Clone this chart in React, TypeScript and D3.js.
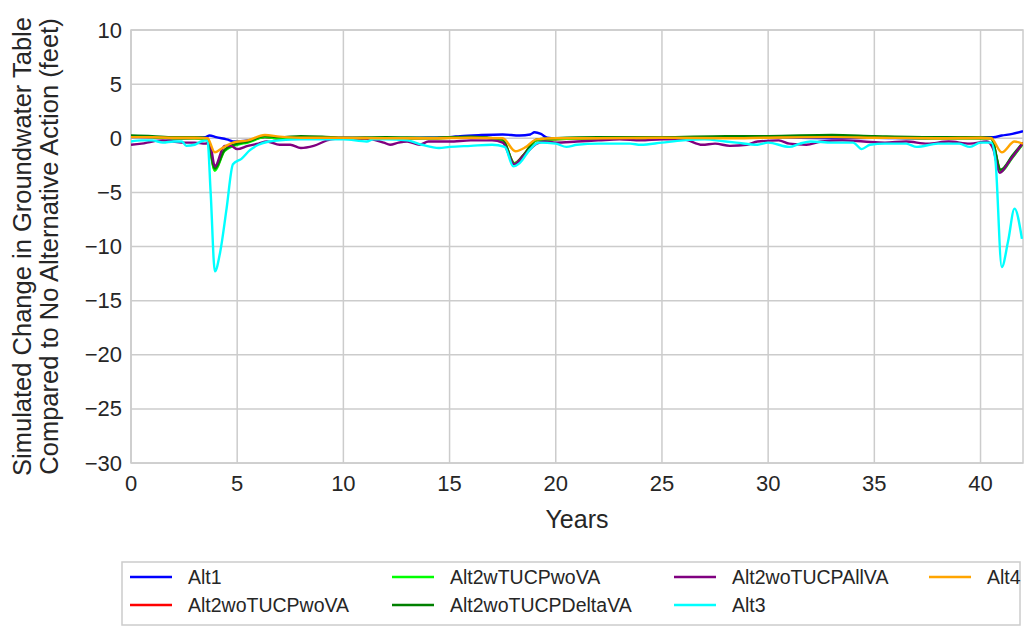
import React from "react";
import * as d3 from "d3";

const xTicks = [0, 5, 10, 15, 20, 25, 30, 35, 40];
const yTicks = [10, 5, 0, -5, -10, -15, -20, -25, -30];

const alt1X = [0, 1, 2, 3, 3.5, 3.7, 4.0, 4.5, 4.9, 5.5, 6.3, 7, 8, 10, 12, 14, 15, 15.5, 16.5, 17.5, 18.3, 18.8, 19.0, 19.3, 19.6, 20, 22, 25, 28, 29, 30, 33, 35, 37, 39, 40, 40.6, 41, 41.5, 42];
const alt1Y = [0.1, 0.1, 0.0, 0.05, 0.1, 0.25, 0.1, -0.1, -0.3, -0.2, 0.1, 0.0, 0.0, 0.05, 0.0, 0.05, 0.1, 0.2, 0.3, 0.35, 0.25, 0.35, 0.55, 0.4, 0.05, 0.0, 0.0, 0.05, 0.05, 0.2, 0.1, 0.0, 0.05, 0.0, 0.1, 0.1, 0.1, 0.25, 0.4, 0.65];

const alt2X = [0, 1, 2, 3, 3.6, 3.95, 4.4, 5.0, 5.5, 6.3, 7, 8, 9, 10, 12, 14, 16, 17.5, 18.05, 18.5, 19.1, 20, 22, 25, 28, 30, 33, 35, 38, 40, 40.5, 40.95, 41.5, 42];
const redY = [0.15, 0.1, 0.0, 0.0, -0.1, -2.9, -1.1, -0.5, -0.3, 0.1, 0.0, 0.1, 0.1, 0.0, 0.0, 0.0, 0.1, -0.2, -2.3, -1.5, -0.2, -0.1, 0.0, 0.0, 0.1, 0.1, 0.15, 0.1, 0.0, 0.0, 0.0, -3.0, -1.7, -0.5];
const limeY = [0.2, 0.1, 0.0, 0.0, -0.1, -3.0, -1.2, -0.6, -0.4, 0.1, 0.0, 0.1, 0.1, 0.0, 0.0, 0.0, 0.1, -0.2, -2.3, -1.6, -0.2, -0.1, 0.0, 0.0, 0.1, 0.1, 0.2, 0.1, 0.0, 0.0, 0.0, -3.1, -1.8, -0.5];
const dgreenY = [0.25, 0.2, 0.1, 0.1, 0.0, -2.8, -1.1, -0.5, -0.3, 0.2, 0.1, 0.2, 0.15, 0.05, 0.1, 0.05, 0.15, -0.1, -2.4, -1.5, -0.1, 0.0, 0.1, 0.1, 0.2, 0.2, 0.3, 0.2, 0.1, 0.1, 0.05, -2.9, -1.6, -0.4];

const purpleX = [0, 0.5, 1.0, 1.5, 2.0, 2.5, 3.0, 3.5, 3.7, 3.95, 4.4, 4.7, 5.0, 5.5, 6.0, 6.4, 7.0, 7.5, 8.0, 8.6, 9.4, 10, 11, 11.9, 12.2, 12.6, 13.0, 13.6, 14.0, 15, 16, 17, 17.5, 18.05, 18.5, 19.1, 19.5, 20, 21, 22, 23, 24, 25, 26, 26.9, 27.5, 28.2, 29, 29.5, 30.5, 31.0, 31.8, 32.5, 33.5, 34.5, 35.5, 36.5, 37.5, 38.5, 39.5, 40.3, 40.6, 40.9, 41.4, 42];
const purpleY = [-0.6, -0.5, -0.3, -0.2, -0.3, -0.4, -0.4, -0.5, -0.4, -2.6, -0.7, -0.7, -1.0, -0.7, -0.5, -0.3, -0.6, -0.6, -0.9, -0.7, -0.1, 0.0, 0.0, -0.4, -0.6, -0.4, -0.3, -0.6, -0.3, -0.3, -0.2, -0.2, -0.4, -2.4, -1.6, -0.5, -0.3, -0.4, -0.3, -0.2, -0.1, -0.2, -0.1, -0.1, -0.6, -0.5, -0.7, -0.6, -0.3, -0.2, -0.5, -0.6, -0.3, -0.2, -0.3, -0.4, -0.3, -0.5, -0.3, -0.5, -0.3, -1.0, -3.2, -2.0, -0.4];

const cyanX = [0, 0.5, 1.0, 1.5, 2.0, 2.4, 2.6, 3.0, 3.3, 3.6, 3.75, 3.95, 4.2, 4.5, 4.8, 5.2, 5.6, 6.0, 6.5, 7, 8, 9, 10, 11.1, 11.4, 12, 13, 13.7, 14.5, 15, 16, 17, 17.6, 18.0, 18.3, 18.8, 19.2, 20, 20.5, 21, 22, 23.5, 24, 25, 26, 27, 28, 28.5, 29.5, 30, 31, 31.5, 32, 33, 34, 34.4, 34.8, 35.5, 36.5, 37, 38, 39, 39.5, 40, 40.5, 40.7, 41.0, 41.3, 41.6, 41.95];
const cyanY = [-0.3, -0.2, -0.2, -0.4, -0.3, -0.3, -0.7, -0.6, -0.3, -0.2, -5.0, -12.3, -10.5, -6.5, -2.4, -1.9, -1.1, -0.6, -0.3, -0.2, -0.1, -0.1, -0.1, -0.3, -0.1, -0.1, -0.2, -0.6, -0.9, -0.8, -0.7, -0.6, -0.8, -2.6, -2.3, -1.0, -0.4, -0.5, -0.8, -0.6, -0.5, -0.5, -0.6, -0.4, -0.2, -0.1, -0.3, -0.4, -0.6, -0.4, -0.8, -0.5, -0.3, -0.4, -0.4, -1.0, -0.6, -0.5, -0.5, -0.8, -0.5, -0.5, -0.8, -0.4, -0.4, -2.0, -11.9, -9.5, -6.5, -9.3];

const orangeX = [0, 1, 2, 3, 3.6, 3.95, 4.3, 4.8, 5.5, 6.3, 7, 8, 10, 12, 14, 16, 17.5, 18.1, 18.6, 19.1, 20, 22, 25, 28, 30, 33, 35, 38, 40, 40.5, 41.0, 41.6, 42];
const orangeY = [0.1, 0.1, 0.05, 0.05, 0.0, -1.3, -0.9, -0.4, -0.2, 0.3, 0.15, 0.05, 0.05, 0.0, 0.0, 0.05, 0.0, -1.2, -0.8, -0.1, 0.0, 0.0, 0.05, 0.0, 0.05, 0.1, 0.05, 0.0, 0.05, 0.0, -1.3, -0.3, -0.5];

const seriesNames = ["Alt1", "Alt2woTUCPwoVA", "Alt2wTUCPwoVA", "Alt2woTUCPDeltaVA", "Alt2woTUCPAllVA", "Alt3", "Alt4"];
const seriesColors = ["#0000ff", "#ff0000", "#00ff00", "#008000", "#800080", "#00ffff", "#ffa500"];
const seriesXs = [alt1X, alt2X, alt2X, alt2X, purpleX, cyanX, orangeX];
const seriesYs = [alt1Y, redY, limeY, dgreenY, purpleY, cyanY, orangeY];

const W = 1027;
const H = 627;
const M = { left: 131, top: 30, right: 1023, bottom: 463 };

export default function App() {
  const x = d3.scaleLinear().domain([0, 42]).range([M.left, M.right]);
  const y = d3.scaleLinear().domain([-30, 10]).range([M.bottom, M.top]);
  const fmt = d3.format("d");
  const line = d3
    .line<[number, number]>()
    .x((d) => x(d[0]))
    .y((d) => y(d[1]))
    .curve(d3.curveMonotoneX);
  const font = "'Liberation Sans', Arial, sans-serif";
  const textColor = "#262626";
  const grid = "#cccccc";

  const legendCols = [130, 392, 674, 929];
  const legendRows = [577, 605];
  const legendOrder = [0, 1, 2, 3, 4, 5, 6];

  return (
    <div style={{ position: "fixed", left: 0, top: 0 }}>
      <svg width={W} height={H} style={{ display: "block", background: "#fff" }}>
        <defs>
          <clipPath id="plotclip">
            <rect x={M.left} y={M.top} width={M.right - M.left} height={M.bottom - M.top} />
          </clipPath>
        </defs>
        {xTicks.map((t) => (
          <line key={"gx" + t} x1={x(t)} x2={x(t)} y1={M.top} y2={M.bottom} stroke={grid} strokeWidth={1.5} />
        ))}
        {yTicks.map((t) => (
          <line key={"gy" + t} x1={M.left} x2={M.right} y1={y(t)} y2={y(t)} stroke={grid} strokeWidth={1.5} />
        ))}
        <rect x={M.left} y={M.top} width={M.right - M.left} height={M.bottom - M.top} fill="none" stroke={grid} strokeWidth={1.5} />
        <g clipPath="url(#plotclip)">
          {seriesNames.map((n, i) => {
            const pts: [number, number][] = seriesXs[i].map((xv, j) => [xv, seriesYs[i][j]]);
            return (
              <path key={n} d={line(pts) || ""} fill="none" stroke={seriesColors[i]} strokeWidth={2.4} strokeLinejoin="round" />
            );
          })}
        </g>
        {xTicks.map((t) => (
          <text key={"tx" + t} x={x(t)} y={M.bottom + 20} textAnchor="middle" dominantBaseline="central" fontFamily={font} fontSize={22} fill={textColor}>
            {fmt(t)}
          </text>
        ))}
        {yTicks.map((t) => (
          <text key={"ty" + t} x={M.left - 9} y={y(t)} textAnchor="end" dominantBaseline="central" fontFamily={font} fontSize={22} fill={textColor}>
            {fmt(t)}
          </text>
        ))}
        <text x={(M.left + M.right) / 2} y={519} textAnchor="middle" dominantBaseline="central" fontFamily={font} fontSize={25} fill={textColor}>
          Years
        </text>
        <g transform={`translate(22, ${(M.top + M.bottom) / 2}) rotate(-90)`}>
          <text x={0} y={0} textAnchor="middle" dominantBaseline="central" fontFamily={font} fontSize={25.5} fill={textColor}>
            Simulated Change in Groundwater Table
          </text>
        </g>
        <g transform={`translate(49, ${(M.top + M.bottom) / 2}) rotate(-90)`}>
          <text x={0} y={0} textAnchor="middle" dominantBaseline="central" fontFamily={font} fontSize={25.5} fill={textColor}>
            Compared to No Alternative Action (feet)
          </text>
        </g>
        <rect x={122} y={562} width={898} height={63} fill="#fff" stroke={grid} strokeWidth={1.5} />
        {legendOrder.map((si, k) => {
          const col = Math.floor(k / 2);
          const row = k % 2;
          const lx = legendCols[col];
          const ly = legendRows[row];
          return (
            <g key={"lg" + si}>
              <line x1={lx} x2={lx + 42} y1={ly} y2={ly} stroke={seriesColors[si]} strokeWidth={2.5} />
              <text x={lx + 58} y={ly} dominantBaseline="central" fontFamily={font} fontSize={19.5} fill={textColor}>
                {seriesNames[si]}
              </text>
            </g>
          );
        })}
      </svg>
    </div>
  );
}
